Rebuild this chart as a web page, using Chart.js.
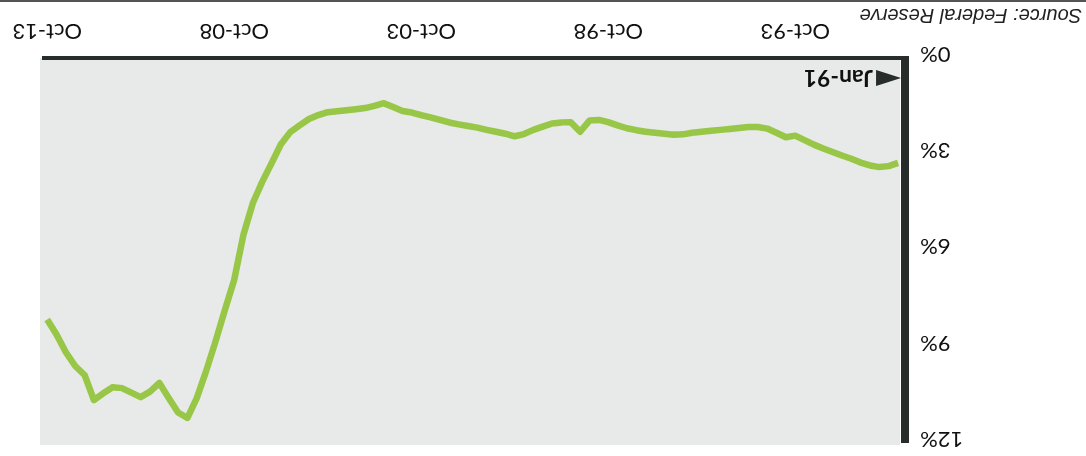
<!DOCTYPE html>
<html>
<head>
<meta charset="utf-8">
<script src="https://cdn.jsdelivr.net/npm/chart.js@4/dist/chart.umd.min.js"></script>
<style>
  html, body { margin: 0; padding: 0; background: #fff; }
  #wrap { width: 1086px; height: 456px; transform: rotate(180deg); }
  canvas { display: block; }
</style>
</head>
<body>
<div id="wrap"><canvas id="c" width="1086" height="456"></canvas></div>
<script>
// Quarterly categories, Jan-91 through Oct-13
const months = ['Jan', 'Apr', 'Jul', 'Oct'];
const quarters = [];
for (let y = 1991; y <= 2013; y++) {
  for (const m of months) quarters.push(m + '-' + String(y % 100).padStart(2, '0'));
}

// Delinquency rate, % (one value per quarter)
const rate = [
  3.27, 3.37, 3.40, 3.35, 3.26, 3.14, 3.04, 2.93, 2.82, 2.70,
  2.56, 2.42, 2.47, 2.33, 2.20, 2.15, 2.15, 2.18, 2.21, 2.24,
  2.27, 2.30, 2.33, 2.38, 2.39, 2.36, 2.33, 2.30, 2.25, 2.19,
  2.10, 2.00, 1.93, 1.95, 2.30, 2.00, 2.01, 2.04, 2.14, 2.24,
  2.37, 2.44, 2.36, 2.30, 2.24, 2.17, 2.12, 2.07, 2.01, 1.93,
  1.85, 1.78, 1.70, 1.65, 1.53, 1.41, 1.49, 1.56, 1.60, 1.63,
  1.66, 1.69, 1.78, 1.90, 2.10, 2.31, 2.69, 3.28, 3.86, 4.52,
  5.50, 6.92, 7.86, 8.84, 9.76, 10.60, 11.22, 11.05, 10.60, 10.13,
  10.40, 10.57, 10.43, 10.29, 10.26, 10.45, 10.66, 9.88, 9.60, 9.17,
  8.62, 8.15
];

const xTickLabels = ['Oct-93', 'Oct-98', 'Oct-03', 'Oct-08', 'Oct-13'];
const yTickValues = [0, 3, 6, 9, 12];
const startLabel = 'Jan-91';
const sourceText = 'Source: Federal Reserve';

const decor = {
  id: 'decor',
  beforeDraw(chart) {
    const { ctx, chartArea: a } = chart;
    ctx.save();
    ctx.fillStyle = '#e8e9e9';
    ctx.fillRect(a.left, a.top - 2, a.right - a.left + 2, a.bottom - a.top + 2);
    ctx.restore();
  },
  afterDraw(chart) {
    const { ctx, chartArea: a, scales } = chart;
    ctx.save();
    // axis lines
    ctx.fillStyle = '#262d2b';
    ctx.fillRect(a.left - 9, a.top, 8, a.bottom - a.top + 2);
    ctx.fillRect(a.left - 9, a.bottom - 2, a.right - a.left + 9, 4);
    // start marker
    const x0 = scales.x.getPixelForValue(quarters.indexOf(startLabel));
    const ym = a.bottom - 20;
    ctx.beginPath();
    ctx.moveTo(x0 - 3, ym);
    ctx.lineTo(x0 + 22, ym - 8);
    ctx.lineTo(x0 + 22, ym + 8);
    ctx.closePath();
    ctx.fill();
    ctx.fillStyle = '#111';
    ctx.font = 'bold 23px Lato';
    ctx.textBaseline = 'middle';
    ctx.textAlign = 'left';
    ctx.fillText(startLabel, x0 + 25, ym + 1);
    // source
    ctx.font = 'italic 20px "Liberation Sans"';
    ctx.fillStyle = '#222';
    ctx.fillText(sourceText, 4, 441);
    // bottom rule
    ctx.fillStyle = '#555';
    ctx.fillRect(0, 454, chart.width, 2);
    ctx.restore();
  }
};

new Chart(document.getElementById('c'), {
  type: 'line',
  data: {
    datasets: [{
      data: rate.map((v, i) => ({ x: i, y: v })),
      borderColor: '#98c647',
      borderWidth: 6.5,
      pointRadius: 0,
      tension: 0,
      borderJoinStyle: 'round'
    }]
  },
  options: {
    responsive: false,
    animation: false,
    layout: { padding: { left: 0, right: 42, top: 13, bottom: 0 } },
    plugins: { legend: { display: false }, tooltip: { enabled: false } },
    scales: {
      x: {
        type: 'linear',
        min: -0.21,
        max: 91.55,
        grid: { display: false, drawTicks: false },
        border: { display: false },
        afterBuildTicks: s => { s.ticks = xTickLabels.map(l => ({ value: quarters.indexOf(l) })); },
        afterFit: s => { s.height = 58; s.paddingLeft = 0; s.paddingRight = 0; },
        ticks: {
          autoSkip: false, maxRotation: 0, padding: 14,
          font: { family: 'Lato', size: 22 }, color: '#111',
          callback: v => quarters[v]
        }
      },
      y: {
        min: 0,
        max: 12,
        afterBuildTicks: s => { s.ticks = yTickValues.map(v => ({ value: v })); },
        afterFit: s => { s.width = 186; s.paddingTop = 0; s.paddingBottom = 0; },
        grid: { display: false, drawTicks: false },
        border: { display: false },
        ticks: {
          padding: 20, labelOffset: 4,
          font: { family: 'Lato', size: 22 }, color: '#111',
          callback: v => v + '%'
        }
      }
    }
  },
  plugins: [decor]
});
</script>
</body>
</html>
